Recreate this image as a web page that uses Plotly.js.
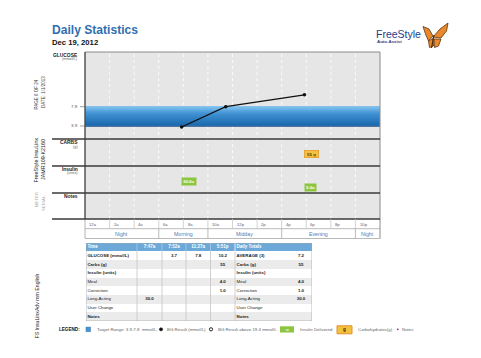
<!DOCTYPE html>
<html><head><meta charset="utf-8">
<script src="https://cdn.plot.ly/plotly-3.0.1.min.js"></script>
<style>html,body{margin:0;padding:0;background:#fff}#chart{width:481px;height:358px}</style>
</head><body><div id="chart"></div>
<script>
// ---------------- data ----------------
const readingTimes = ['7:47a', '7:52a', '11:27a', '5:51p'];
const rowLabels = ['GLUCOSE (mmol/L)', 'Carbs (g)', 'Insulin (units)', 'Meal', 'Correction', 'Long-Acting', 'User Change', 'Notes'];
const glucoseRow = ['', '3.7', '7.8', '10.2'];
const carbsRow = ['', '', '', '55'];
const insulinRow = ['', '', '', ''];
const mealRow = ['', '', '', '4.0'];
const correctionRow = ['', '', '', '1.0'];
const longActingRow = ['30.0', '', '', ''];
const userChangeRow = ['', '', '', ''];
const notesRow = ['', '', '', ''];
const totalLabels = ['AVERAGE (3)', 'Carbs (g)', 'Insulin (units)', 'Meal', 'Correction', 'Long-Acting', 'User Change', 'Notes'];
const totalValues = ['7.2', '55', '', '4.0', '1.0', '30.0', '', ''];
const boldRows = [true, true, true, false, false, false, false, true];
const targetRange = [3.9, 7.8];
const hourTicks = [0, 2, 4, 6, 8, 10, 12, 14, 16, 18, 20, 22];
const hourLabels = ['12a', '2a', '4a', '6a', '8a', '10a', '12p', '2p', '4p', '6p', '8p', '10p'];
const periodNames = ['Night', 'Morning', 'Midday', 'Evening', 'Night'];
const periodStarts = [0, 6, 10, 16, 22];
const periodEnds = [6, 10, 16, 22, 24];

// ---------------- helpers / style ----------------
const FONT = "Arial, 'Liberation Sans', Helvetica, sans-serif";
const W = 481, H = 358;
const X = px => px / W;
const Y = py => 1 - py / H;
function toHours(s) {
  const m = s.match(/(\d+):(\d+)([ap])/);
  let h = (+m[1]) % 12; if (m[3] === 'p') h += 12;
  return h + (+m[2]) / 60;
}
const times = readingTimes.map(toHours);

// layout geometry (pixels)
const L = 85, R = 380, T = 52, GB = 139, CB = 166, IB = 193, NB = 219, LR = 228.7, PR = 238.5;

const bgX = [], bgY = [];
glucoseRow.forEach((v, i) => { if (v !== '') { bgX.push(times[i]); bgY.push(+v); } });

const shapes = [];
const annotations = [];
const below = 'below';

// panel background
shapes.push({type: 'rect', xref: 'paper', yref: 'paper', x0: X(L), x1: X(R), y0: Y(NB), y1: Y(T), fillcolor: '#e6e6e6', line: {width: 0}, layer: below});
// grid
hourTicks.slice(1).forEach(h => shapes.push({type: 'line', xref: 'x', yref: 'paper', x0: h, x1: h, y0: Y(NB), y1: Y(T), line: {color: '#fbfbfb', width: 1, dash: 'dot'}, layer: below}));
// target band: heatmap strips (gradient look), edges from the target range
const nStrips = 20;
const bandEdges = [];
for (let i = 0; i <= nStrips; i++) bandEdges.push(targetRange[0] + (targetRange[1] - targetRange[0]) * i / nStrips);
const bandZ = [];
for (let i = 0; i < nStrips; i++) bandZ.push([i]);
shapes.push({type: 'line', xref: 'paper', yref: 'y', x0: X(L), x1: X(R), y0: targetRange[1], y1: targetRange[1], line: {color: '#8fc4ec', width: 1.2}, layer: below});
shapes.push({type: 'line', xref: 'paper', yref: 'y', x0: X(L), x1: X(R), y0: targetRange[0], y1: targetRange[0], line: {color: '#17508a', width: 1.6}, layer: below});
// target tick marks + labels
targetRange.forEach(v => {
  shapes.push({type: 'line', xref: 'paper', yref: 'y', x0: X(80), x1: X(84.5), y0: v, y1: v, line: {color: '#888', width: 0.8}});
  annotations.push({xref: 'paper', yref: 'y', x: X(79.5), y: v, xanchor: 'right', yanchor: 'middle', text: v.toFixed(1), showarrow: false, font: {size: 4.4, color: '#555'}});
});
// borders
shapes.push({type: 'line', xref: 'paper', yref: 'paper', x0: X(L), x1: X(R), y0: Y(T), y1: Y(T), line: {color: '#8a8a8a', width: 1}});
shapes.push({type: 'line', xref: 'paper', yref: 'paper', x0: X(R), x1: X(R), y0: Y(PR), y1: Y(T), line: {color: '#8a8a8a', width: 1}});
shapes.push({type: 'line', xref: 'paper', yref: 'paper', x0: X(L), x1: X(L), y0: Y(NB), y1: Y(T), line: {color: '#4a4a4a', width: 1.4}});
shapes.push({type: 'line', xref: 'paper', yref: 'paper', x0: X(L), x1: X(L), y0: Y(PR), y1: Y(NB), line: {color: '#a0a0a0', width: 0.8}});
[GB, CB, IB, NB].forEach(py => shapes.push({type: 'line', xref: 'paper', yref: 'paper', x0: X(52), x1: X(R), y0: Y(py), y1: Y(py), line: {color: '#3a3a3a', width: 1.5}}));
// hour label row + period row
shapes.push({type: 'line', xref: 'paper', yref: 'paper', x0: X(L), x1: X(R), y0: Y(LR), y1: Y(LR), line: {color: '#a8a8a8', width: 0.8}});
shapes.push({type: 'line', xref: 'paper', yref: 'paper', x0: X(L), x1: X(R), y0: Y(PR), y1: Y(PR), line: {color: '#a8a8a8', width: 0.8}});
hourTicks.slice(1).forEach(h => shapes.push({type: 'line', xref: 'x', yref: 'paper', x0: h, x1: h, y0: Y(LR), y1: Y(NB), line: {color: '#c8c8c8', width: 0.8}}));
periodStarts.slice(1).forEach(h => shapes.push({type: 'line', xref: 'x', yref: 'paper', x0: h, x1: h, y0: Y(PR), y1: Y(LR), line: {color: '#a8a8a8', width: 0.8}}));
hourTicks.forEach((h, i) => annotations.push({xref: 'x', yref: 'paper', x: h, xshift: 2.2, y: Y(224.2), xanchor: 'left', yanchor: 'middle', text: hourLabels[i], showarrow: false, font: {size: 4.2, color: '#5a6070'}}));
periodNames.forEach((p, i) => annotations.push({xref: 'x', yref: 'paper', x: (periodStarts[i] + periodEnds[i]) / 2, y: Y(233.8), xanchor: 'center', yanchor: 'middle', text: p, showarrow: false, font: {size: 5.2, color: '#4d7db5'}}));

// panel titles
function lab(text, py, size, color) {
  annotations.push({xref: 'paper', yref: 'paper', x: X(79.5), y: Y(py), xanchor: 'right', yanchor: 'middle', text, showarrow: false, font: {size, color}});
}
lab('<b>GLUCOSE</b>', 55.2, 4.9, '#222'); lab('(mmol/L)', 59, 3.8, '#666');
lab('<b>CARBS</b>', 142.8, 4.9, '#222'); lab('(g)', 146.8, 3.8, '#666');
lab('<b>Insulin</b>', 169.2, 4.9, '#222'); lab('(units)', 173.1, 3.8, '#666');
lab('<b>Notes</b>', 196.2, 4.9, '#222');

// carbs and insulin markers
carbsRow.forEach((v, i) => { if (v !== '') annotations.push({xref: 'x', yref: 'y2', x: times[i], y: 0.44, xanchor: 'left', yanchor: 'middle', text: '<b>' + v + ' g</b>', showarrow: false, width: 12, font: {size: 4.4, color: '#5a3800'}, bgcolor: '#f2c23f', bordercolor: '#e49a2e', borderwidth: 0.8, borderpad: 0.8}); });
longActingRow.forEach((v, i) => { if (v !== '') annotations.push({xref: 'x', yref: 'y3', x: times[i], y: 0.44, xanchor: 'left', yanchor: 'middle', text: '<b>' + v + 'u</b>', showarrow: false, font: {size: 4.4, color: '#ffffff'}, bgcolor: '#8cc540', borderpad: 1}); });
mealRow.forEach((v, i) => {
  const bolus = (+mealRow[i] || 0) + (+correctionRow[i] || 0);
  if (bolus > 0) annotations.push({xref: 'x', yref: 'y3', x: times[i], y: 0.19, xanchor: 'left', yanchor: 'middle', text: '<b>' + bolus.toFixed(1) + 'u</b>', showarrow: false, font: {size: 4.4, color: '#ffffff'}, bgcolor: '#8cc540', borderpad: 1});
});

// headings
annotations.push({xref: 'paper', yref: 'paper', x: X(50.3), y: Y(30), xanchor: 'left', yanchor: 'middle', text: '<b>Daily Statistics</b>', showarrow: false, font: {size: 12.1, color: '#2f6fb0'}});
annotations.push({xref: 'paper', yref: 'paper', x: X(50.3), y: Y(43), xanchor: 'left', yanchor: 'middle', text: '<b>Dec 19, 2012</b>', showarrow: false, font: {size: 7.7, color: '#111'}});
annotations.push({xref: 'paper', yref: 'paper', x: X(374), y: Y(34.3), xanchor: 'left', yanchor: 'middle', text: 'FreeStyle', showarrow: false, font: {size: 10.5, color: '#1e3d8a'}});
annotations.push({xref: 'paper', yref: 'paper', x: X(374.8), y: Y(41.3), xanchor: 'left', yanchor: 'middle', text: '<b>Auto-Assist</b>', showarrow: false, font: {size: 4.4, color: '#1e3d8a'}});
// butterfly
const P = pts => 'M' + pts.map(p => X(p[0]) + ',' + Y(p[1])).join('L') + 'Z';
const wing = {fillcolor: '#e8892b', line: {color: '#5e3410', width: 0.8}};
[
  [[433, 37], [440, 29], [448, 23], [446.5, 31], [441, 38]],
  [[434, 39], [441, 39], [438.5, 46], [434.5, 47.5]],
  [[423, 26.5], [429, 29], [433, 36], [428.5, 41], [425.5, 34]],
  [[428.5, 41], [433, 38.5], [433.5, 46], [429.5, 47.5]]
].forEach(pts => shapes.push(Object.assign({type: 'path', xref: 'paper', yref: 'paper', path: P(pts)}, wing)));
shapes.push({type: 'line', xref: 'paper', yref: 'paper', x0: X(431.5), y0: Y(48), x1: X(434), y1: Y(35), line: {color: '#4a2a0e', width: 1.2}});

// side rotated texts
function rot(text, px, py, size, color) {
  annotations.push({xref: 'paper', yref: 'paper', x: X(px), y: Y(py), xanchor: 'center', yanchor: 'middle', textangle: -90, text, showarrow: false, font: {size, color}});
}
rot('PAGE 6 OF 24', 35.5, 95, 4.5, '#444');
rot('DATE: 1/1/2013', 43, 92, 4.5, '#444');
rot('FreeStyle InsuLinx', 35.5, 160, 5.4, '#222');
rot('JAMR109-K2160', 43, 160, 5.4, '#222');
rot('METER', 36, 200, 4.3, '#aaa');
rot('SERIAL:', 43, 203, 4.3, '#aaa');
rot('FS InsuLinxAdv mm English', 36.5, 306, 5.2, '#222');

// ---------------- table (heatmap cells + text) ----------------
const colWidths = [51, 25, 24, 24.5, 24.5, 55, 22];
const headH = 8.5, rowH = 8.7;
const edges = [0]; colWidths.forEach(w => edges.push(edges[edges.length - 1] + w));
const yEdges = [0, headH]; rowLabels.forEach(() => yEdges.push(yEdges[yEdges.length - 1] + rowH));
const tableW = edges[edges.length - 1], tableH = yEdges[yEdges.length - 1];
const z = [colWidths.map(() => 2)];
rowLabels.forEach((r, i) => z.push(colWidths.map(() => i % 2)));
const bodyRows = [glucoseRow, carbsRow, insulinRow, mealRow, correctionRow, longActingRow, userChangeRow, notesRow];
const rowMid = i => headH + rowH * (i + 0.5);
const B = (s, b) => (b && s !== '') ? '<b>' + s + '</b>' : s;

const leftX = [], leftY = [], leftT = [];
rowLabels.forEach((r, i) => { leftX.push(edges[0] + 1.4); leftY.push(rowMid(i)); leftT.push(B(r, boldRows[i])); });
totalLabels.forEach((r, i) => { leftX.push(edges[5] + 1.6); leftY.push(rowMid(i)); leftT.push(B(r, boldRows[i])); });
const midX = [], midY = [], midT = [];
bodyRows.forEach((row, i) => row.forEach((v, j) => { if (v !== '') { midX.push((edges[j + 1] + edges[j + 2]) / 2); midY.push(rowMid(i)); midT.push('<b>' + v + '</b>'); } }));
totalValues.forEach((v, i) => { if (v !== '') { midX.push((edges[6] + edges[7]) / 2); midY.push(rowMid(i)); midT.push('<b>' + v + '</b>'); } });
const headX = [edges[0] + 1.4, edges[5] + 1.6], headT = ['<b>Time</b>', '<b>Daily Totals</b>'];
const headCX = readingTimes.map((t, j) => (edges[j + 1] + edges[j + 2]) / 2);

// table lines
for (let k = 1; k <= 5; k++) {
  shapes.push({type: 'line', xref: 'x2', yref: 'y4', x0: edges[k], x1: edges[k], y0: headH, y1: tableH, line: {color: '#c4c4c4', width: 0.8}});
  shapes.push({type: 'line', xref: 'x2', yref: 'y4', x0: edges[k], x1: edges[k], y0: 0, y1: headH, line: {color: k === 5 ? '#ffffff' : '#a9cdea', width: 0.8}});
}
shapes.push({type: 'rect', xref: 'x2', yref: 'y4', x0: 0, x1: tableW, y0: 0, y1: tableH, line: {color: '#a8a8a8', width: 0.8}});

// legend
const LY = 329.3;
const legT = (text, px, extra) => annotations.push(Object.assign({xref: 'paper', yref: 'paper', x: X(px), y: Y(LY), xanchor: 'left', yanchor: 'middle', text, showarrow: false, font: {size: 4.4, color: '#666'}}, extra || {}));
legT('<b>LEGEND:</b>', 57.3, {font: {size: 4.6, color: '#111'}});
shapes.push({type: 'rect', xref: 'paper', yref: 'paper', x0: X(86), x1: X(90.5), y0: Y(331.6), y1: Y(327.1), fillcolor: '#4b93d2', line: {color: '#2a6aa8', width: 0.5}});
legT('Target Range: ' + targetRange[0] + '-' + targetRange[1] + '  mmol/L,', 95);
shapes.push({type: 'circle', xref: 'paper', yref: 'paper', x0: X(159.4), x1: X(162.6), y0: Y(330.9), y1: Y(327.7), fillcolor: '#111', line: {color: '#111', width: 0.5}});
legT('BG Result (mmol/L)', 165);
shapes.push({type: 'circle', xref: 'paper', yref: 'paper', x0: X(209.4), x1: X(212.6), y0: Y(330.9), y1: Y(327.7), fillcolor: '#fff', line: {color: '#111', width: 0.9}});
legT('BG Result above 19.4 mmol/L', 215.5);
shapes.push({type: 'rect', xref: 'paper', yref: 'paper', x0: X(280), x1: X(294), y0: Y(332.5), y1: Y(326.3), fillcolor: '#8cc540', line: {width: 0}});
annotations.push({xref: 'paper', yref: 'paper', x: X(287), y: Y(LY), xanchor: 'center', yanchor: 'middle', text: '<b>u</b>', showarrow: false, font: {size: 4.4, color: '#fff'}});
legT('Insulin Delivered', 298);
shapes.push({type: 'rect', xref: 'paper', yref: 'paper', x0: X(337), x1: X(352), y0: Y(333.8), y1: Y(325.8), fillcolor: '#f2c23f', line: {color: '#e38f2c', width: 1}});
annotations.push({xref: 'paper', yref: 'paper', x: X(344.5), y: Y(LY), xanchor: 'center', yanchor: 'middle', text: '<b>g</b>', showarrow: false, font: {size: 4.6, color: '#3a2500'}});
legT('Carbohydrates(g)', 356);
shapes.push({type: 'circle', xref: 'paper', yref: 'paper', x0: X(396.8), x1: X(398.6), y0: Y(330.2), y1: Y(328.4), fillcolor: '#8a3468', line: {width: 0}});
legT('Notes', 400);

// ---------------- traces ----------------
const traces = [
  {type: 'heatmap', x: [0, 24], y: bandEdges, z: bandZ, xaxis: 'x', yaxis: 'y', zmin: 0, zmax: nStrips - 1,
   colorscale: [[0, 'rgb(26,104,174)'], [0.6, 'rgb(62,144,210)'], [1, 'rgb(120,188,235)']], showscale: false, hoverinfo: 'skip', zsmooth: false},
  {type: 'scatter', mode: 'lines+markers', x: bgX, y: bgY, xaxis: 'x', yaxis: 'y',
   line: {color: '#111', width: 1.3}, marker: {color: '#111', size: 3.6}, hoverinfo: 'skip'},
  {type: 'heatmap', x: edges, y: yEdges, z: z, xaxis: 'x2', yaxis: 'y4', zmin: 0, zmax: 2,
   colorscale: [[0, '#ffffff'], [0.5, '#ebebeb'], [1, '#6ca8d8']], showscale: false, hoverinfo: 'skip', zsmooth: false},
  {type: 'scatter', mode: 'text', x: leftX, y: leftY, text: leftT, textposition: 'middle right', xaxis: 'x2', yaxis: 'y4',
   textfont: {family: FONT, size: 4.4, color: '#222'}, hoverinfo: 'skip'},
  {type: 'scatter', mode: 'text', x: midX, y: midY, text: midT, textposition: 'middle center', xaxis: 'x2', yaxis: 'y4',
   textfont: {family: FONT, size: 4.4, color: '#222'}, hoverinfo: 'skip'},
  {type: 'scatter', mode: 'text', x: headX, y: [headH / 2, headH / 2], text: headT, textposition: 'middle right', xaxis: 'x2', yaxis: 'y4',
   textfont: {family: FONT, size: 4.5, color: '#ffffff'}, hoverinfo: 'skip'},
  {type: 'scatter', mode: 'text', x: headCX, y: headCX.map(() => headH / 2), text: readingTimes.map(t => '<b>' + t + '</b>'), textposition: 'middle center', xaxis: 'x2', yaxis: 'y4',
   textfont: {family: FONT, size: 4.5, color: '#ffffff'}, hoverinfo: 'skip'}
];

const ax = {visible: false, fixedrange: true, showgrid: false, zeroline: false};
const layout = {
  width: W, height: H, margin: {l: 0, r: 0, t: 0, b: 0},
  paper_bgcolor: '#ffffff', plot_bgcolor: 'rgba(0,0,0,0)', showlegend: false, hovermode: false,
  font: {family: FONT, size: 5, color: '#333'},
  xaxis: Object.assign({domain: [X(L), X(R)], range: [0, 24], anchor: 'y'}, ax),
  yaxis: Object.assign({domain: [Y(GB), Y(T)], range: [1.27, 18.85], anchor: 'x'}, ax),
  yaxis2: Object.assign({domain: [Y(CB), Y(GB)], range: [0, 1], anchor: 'x'}, ax),
  yaxis3: Object.assign({domain: [Y(IB), Y(CB)], range: [0, 1], anchor: 'x'}, ax),
  xaxis2: Object.assign({domain: [X(86), X(312)], range: [0, tableW], anchor: 'y4'}, ax),
  yaxis4: Object.assign({domain: [Y(321), Y(243)], range: [tableH, 0], anchor: 'x2'}, ax),
  shapes: shapes, annotations: annotations
};
Plotly.newPlot('chart', traces, layout, {staticPlot: true, displayModeBar: false});
</script></body></html>
